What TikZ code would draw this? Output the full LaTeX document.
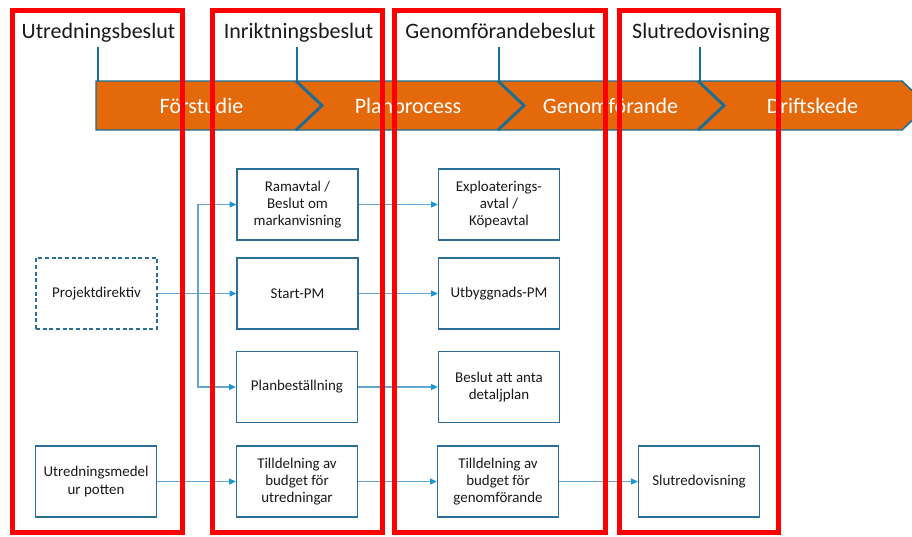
\documentclass[tikz,border=0pt]{standalone}
\usepackage{fontspec}
\setmainfont{Carlito}
\usetikzlibrary{arrows.meta}
\definecolor{bannerorange}{RGB}{228,105,10}
\definecolor{tickblue}{RGB}{25,110,150}
\definecolor{boxblue}{RGB}{45,110,150}
\definecolor{linkblue}{RGB}{100,165,210}
\definecolor{tipblue}{RGB}{25,150,215}

\begin{document}
\begin{tikzpicture}[x=0.75pt,y=-0.75pt]
	\tikzstyle{gate}=[anchor=base,font=\fontsize{16.5}{19}\selectfont,text=black!90]
	\tikzstyle{stage}=[anchor=base,font=\fontsize{16.5}{19}\selectfont,text=white]
	\tikzstyle{box}=[rectangle,draw=boxblue,line width=1.1pt,fill=white,align=center,minimum width=90.75pt,minimum height=53.25pt,inner sep=2pt,font=\fontsize{11.2}{13}\selectfont,text=black!90]
	\tikzstyle{draft}=[box,dash pattern=on 3pt off 2pt]
	\tikzstyle{link}=[draw=linkblue,line width=0.8pt,-{Triangle[length=5pt,width=4.5pt,color=tipblue]}]
	\tikzstyle{gatebox}=[draw=red,line width=3.75pt]
	\useasboundingbox (0,0) rectangle (912,536);
	\clip (0,0) rectangle (912,536);
	\filldraw[fill=bannerorange,draw=tickblue,line width=1.1pt] (96,81) -- (902,81) -- (928,105.5) -- (902,130) -- (96,130) -- cycle;
	\foreach \x in {296,498,698}
		\draw[tickblue,line width=2.2pt] (\x,81) -- (\x+26,105.5) -- (\x,130);
	\foreach \x in {98,297,499,700}
		\draw[tickblue,line width=2.2pt] (\x,47) -- (\x,81);
	\node[gate] (utrbeslut) at (98.5,38.5) {Utredningsbeslut};
	\node[gate] (inrbeslut) at (298.5,38.5) {Inriktningsbeslut};
	\node[gate] (genbeslut) at (500.5,38.5) {Genomförandebeslut};
	\node[gate] (slutbeslut) at (701,38.5) {Slutredovisning};
	\node[stage] (forstudie) at (201.5,113) {Förstudie};
	\node[stage] (planproc) at (408,113) {Planprocess};
	\node[stage] (genomf) at (610.5,113) {Genomförande};
	\node[stage] (drift) at (812.5,113) {Driftskede};
	\node[draft] (projdir) at (96.5,293.5) {Projektdirektiv};
	\node[box] (utrmedel) at (96,481.5) {Utredningsmedel\\ur potten};
	\node[box] (ramavtal) at (297.5,204.5) {Ramavtal /\\Beslut om\\markanvisning};
	\node[box] (startpm) at (297.5,293.5) {Start-PM};
	\node[box] (planbest) at (297,387) {Planbeställning};
	\node[box] (tillutr) at (297,481.5) {Tilldelning av\\budget för\\utredningar};
	\node[box] (exploat) at (499,204.5) {Exploaterings-\\avtal /\\Köpeavtal};
	\node[box] (utbpm) at (499,293.5) {Utbyggnads-PM};
	\node[box] (detplan) at (499,387) {Beslut att anta\\detaljplan};
	\node[box] (tillgen) at (498,481.5) {Tilldelning av\\budget för\\genomförande};
	\node[box] (slutred) at (699,481.5) {Slutredovisning};
	\coordinate (split) at (198,293.5);
	\draw[link] (projdir) -- (startpm);
	\draw[link] (split) |- (ramavtal);
	\draw[link] (split) |- (planbest);
	\draw[link] (utrmedel) -- (tillutr);
	\draw[link] (ramavtal) -- (exploat);
	\draw[link] (startpm) -- (utbpm);
	\draw[link] (planbest) -- (detplan);
	\draw[link] (tillutr) -- (tillgen);
	\draw[link] (tillgen) -- (slutred);
	\draw[gatebox] (12.5,10.5) rectangle (182.5,532);
	\draw[gatebox] (212.5,10.5) rectangle (382.5,532);
	\draw[gatebox] (394.5,10.5) rectangle (605.5,532);
	\draw[gatebox] (619.5,10.5) rectangle (778.5,532);
\end{tikzpicture}
\end{document}
